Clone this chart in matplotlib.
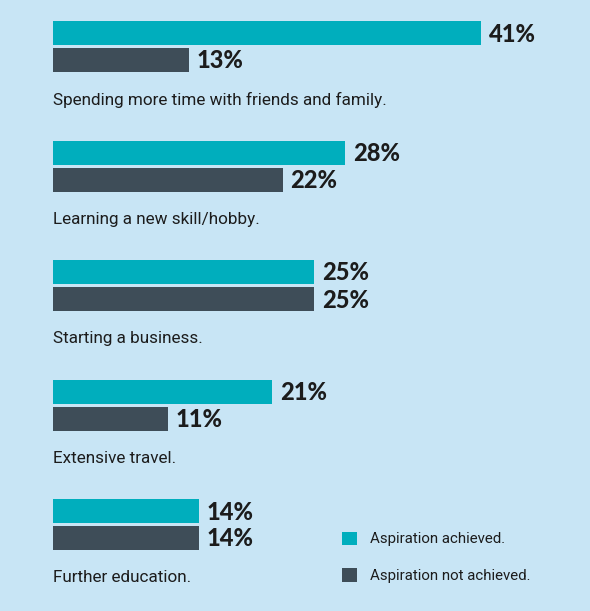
import matplotlib.pyplot as plt
from matplotlib.patches import Patch

categories = [
    "Spending more time with friends and family.",
    "Learning a new skill/hobby.",
    "Starting a business.",
    "Extensive travel.",
    "Further education.",
]
achieved = [41, 28, 25, 21, 14]
not_achieved = [13, 22, 25, 11, 14]
series_labels = ["Aspiration achieved.", "Aspiration not achieved."]

BG = "#C8E5F5"
TEAL = "#00AEBD"
DARK = "#3E4D58"
TEXT = "#1C1C1C"

W, H = 590, 611
fig = plt.figure(figsize=(W / 100, H / 100), dpi=100, facecolor=BG)
ax = fig.add_axes([0, 0, 1, 1])
ax.set_facecolor(BG)

# horizontal scale: 0% sits 53 px from the left edge, ~10.44 px per percent
px_per_unit = 10.44
x0 = 53
ax.set_xlim(-x0 / px_per_unit, (W - x0) / px_per_unit)
ax.set_ylim(H, 0)
ax.axis("off")

step = 119.5
bar_h = 24
for i, (cat, a, n) in enumerate(zip(categories, achieved, not_achieved)):
    ya = 33 + i * step
    yn = 60 + i * step
    ax.barh(ya, a, height=bar_h, color=TEAL, left=0)
    ax.barh(yn, n, height=bar_h, color=DARK, left=0)
    ax.text(a + 0.75, ya + 1, f"{a}%", va="center", ha="left",
            fontsize=17, fontweight="black", family="Lato", color=TEXT)
    ax.text(n + 0.75, yn + 1, f"{n}%", va="center", ha="left",
            fontsize=17, fontweight="black", family="Lato", color=TEXT)
    ax.text(0, 100 + i * step, cat, va="center", ha="left",
            fontsize=12.3, family="Roboto", color=TEXT)

handles = [Patch(facecolor=TEAL, edgecolor="none"),
           Patch(facecolor=DARK, edgecolor="none")]
fig.legend(handles, series_labels, loc="upper left",
           bbox_to_anchor=(328 / W, 1 - 518 / H), frameon=False,
           handlelength=1.0, handleheight=1.0, handletextpad=0.9,
           labelspacing=1.45, prop={"family": "Roboto", "size": 10.8},
           labelcolor=TEXT)

fig.savefig("out.png", dpi=100, facecolor=BG)
